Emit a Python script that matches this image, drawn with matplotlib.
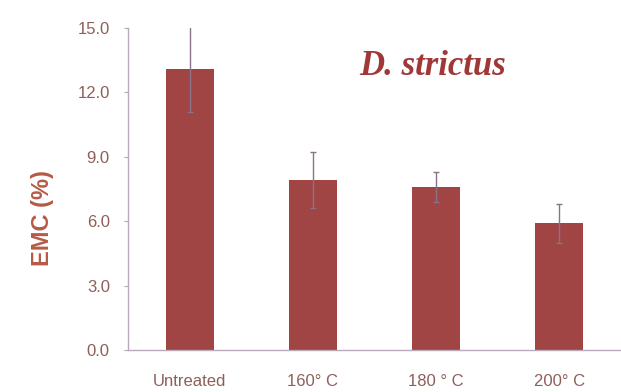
import numpy as np
import matplotlib.pyplot as plt

# EMC values
categories = ['Untreated', '160° C', '180 ° C', '200° C']
emc = [13.1, 7.9, 7.6, 5.9]
emc_err = [2.0, 1.3, 0.7, 0.9]

bar_color = '#a04444'
text_color = '#8e5f5a'
sans = 'Liberation Sans'

fig = plt.figure(figsize=(6.21, 3.92), dpi=100)
ax = fig.add_axes([0.206, 0.107, 0.794, 0.822])

x = np.arange(len(categories))
ax.bar(x, emc, width=0.39, color=bar_color, zorder=2)
ax.errorbar(x, emc, yerr=emc_err, fmt='none', ecolor='#8a7388',
            elinewidth=1.0, capsize=2, capthick=1.0, zorder=3)

ax.set_xlim(-0.5, 3.5)
ax.set_ylim(0, 15)
ax.set_yticks([0, 3, 6, 9, 12, 15])
ax.set_yticklabels(['0.0', '3.0', '6.0', '9.0', '12.0', '15.0'], family=sans)
ax.set_xticks(x)
ax.set_xticklabels(categories, family=sans)

for side in ['top', 'right']:
    ax.spines[side].set_visible(False)
for side in ['left', 'bottom']:
    ax.spines[side].set_color('#b8aabb')
    ax.spines[side].set_linewidth(1.0)

ax.tick_params(axis='y', length=3, color='#b8aabb', labelsize=12,
               labelcolor=text_color, pad=10)
ax.tick_params(axis='x', length=0, labelsize=12, labelcolor=text_color, pad=17)

ax.set_ylabel('EMC (%)', fontsize=17, fontweight='bold', color='#b55a45', family=sans)
ax.yaxis.set_label_coords(-0.15, 0.41)

ax.text(1.97, 13.2, 'D. strictus', ha='center', va='center',
        fontsize=25, fontweight='bold', fontstyle='italic', family='Liberation Serif',
        color='#a03838')

plt.savefig('out.png', dpi=100)
